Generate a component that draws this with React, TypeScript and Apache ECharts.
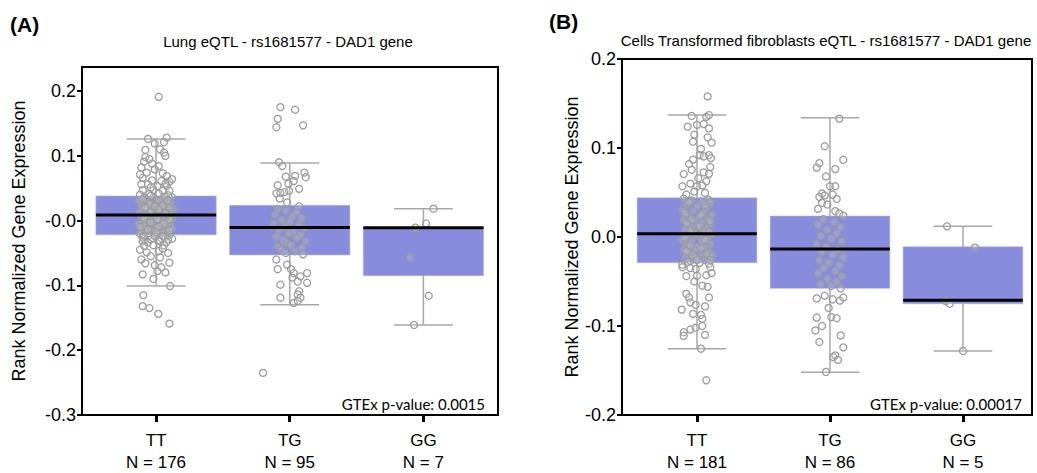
import React, { useEffect, useRef } from "react";
import * as echarts from "echarts";

// ---------- DATA ----------
const categories = ["TT", "TG", "GG"];
const lungCounts = [176, 95, 7];
const fibroCounts = [181, 86, 5];
const lungTitle = "Lung eQTL - rs1681577 - DAD1 gene";
const fibroTitle = "Cells Transformed fibroblasts eQTL - rs1681577 - DAD1 gene";
const lungP = "GTEx p-value: 0.0015";
const fibroP = "GTEx p-value: 0.00017";
const lungTicks = [-0.3, -0.2, -0.1, 0, 0.1, 0.2];
const fibroTicks = [-0.2, -0.1, 0, 0.1, 0.2];

// box stats: [category, lowerWhisker, q1, median, q3, upperWhisker]
const lungBoxes = [
  [0, -0.101, -0.022, 0.0085, 0.038, 0.126],
  [1, -0.130, -0.053, -0.0105, 0.0235, 0.089],
  [2, -0.161, -0.085, -0.011, -0.011, 0.0184],
];
const fibroBoxes = [
  [0, -0.1255, -0.029, 0.0037, 0.044, 0.137],
  [1, -0.152, -0.0577, -0.0134, 0.0235, 0.134],
  [2, -0.128, -0.075, -0.071, -0.011, 0.012],
];

// points: [jitter offset from category centre, value]
const lungTT = [
  [0.02, 0.191],
  [-0.06, 0.126], [-0.01, 0.119], [0.08, 0.128], [0.03, 0.110], [0.06, 0.105], [-0.08, 0.098], [-0.09, 0.091],
  [-0.03, 0.088], [-0.11, 0.082], [-0.01, 0.079], [-0.07, 0.074], [0.05, 0.073], [0.08, 0.069], [-0.10, 0.066],
  [-0.03, 0.062], [0.04, 0.061], [0.10, 0.060], [-0.11, 0.056], [-0.06, 0.056], [0.01, 0.053], [0.08, 0.053],
  [-0.10, 0.047], [-0.02, 0.047], [0.05, 0.046], [0.10, 0.046], [0.07, 0.100], [-0.08, 0.109],
  [0.06, 0.121], [-0.05, 0.095], [0.02, 0.084], [-0.12, 0.071], [0.12, 0.064], [-0.04, 0.051], [0.07, 0.057],
  [-0.12, 0.040], [-0.05, 0.041], [0.02, 0.042], [0.09, 0.039], [0.12, 0.036], [-0.09, 0.035], [-0.02, 0.036],
  [0.05, 0.034], [-0.13, 0.031], [0.00, 0.030], [0.07, 0.029], [-0.07, 0.028], [0.11, 0.027], [-0.03, 0.025],
  [0.03, 0.024], [-0.11, 0.023], [0.09, 0.022], [-0.06, 0.021], [0.01, 0.020], [0.06, 0.019], [-0.09, 0.018],
  [0.13, 0.017], [-0.02, 0.016], [0.04, 0.015], [-0.12, 0.014], [0.08, 0.013], [-0.05, 0.012], [0.00, 0.011],
  [0.11, 0.010], [-0.08, 0.009], [0.05, 0.008], [-0.01, 0.007], [-0.11, 0.006], [0.09, 0.005], [0.03, 0.004],
  [-0.06, 0.003], [0.12, 0.002], [-0.03, 0.001], [0.06, 0.000], [-0.10, -0.001], [0.01, -0.002], [0.09, -0.003],
  [-0.07, -0.004], [-0.13, -0.005], [0.04, -0.006], [-0.02, -0.007], [0.11, -0.008], [-0.09, -0.009],
  [0.07, -0.010], [0.00, -0.011], [-0.05, -0.012], [0.12, -0.013], [-0.11, -0.014], [0.03, -0.015],
  [-0.03, -0.016], [0.08, -0.017], [-0.08, -0.018], [0.05, -0.019], [-0.12, -0.020], [0.01, -0.021],
  [0.10, -0.022], [-0.06, -0.023], [-0.01, -0.024], [0.07, -0.025], [-0.10, -0.026], [0.04, -0.027],
  [0.12, -0.028], [-0.04, -0.029], [0.02, -0.030], [-0.08, -0.031],
  [-0.04, 0.038], [0.06, 0.037], [-0.10, 0.033], [0.02, 0.032], [0.09, 0.031], [-0.05, 0.026], [0.05, 0.023],
  [-0.01, 0.022], [-0.08, 0.020], [0.10, 0.019], [0.02, 0.017], [-0.04, 0.013], [0.07, 0.011], [-0.09, 0.004],
  [0.01, 0.002], [0.10, 0.001], [-0.04, -0.003], [0.06, -0.004], [-0.12, -0.010], [0.02, -0.009],
  [-0.06, -0.014], [0.10, -0.015], [0.00, -0.018], [-0.09, -0.024], [0.05, -0.024], [0.09, -0.029],
  [-0.10, -0.032], [-0.06, -0.034], [0.03, -0.032], [0.08, -0.033], [-0.09, -0.039], [-0.02, -0.038],
  [0.06, -0.038], [-0.07, -0.049], [0.02, -0.047], [0.09, -0.050], [-0.11, -0.060], [-0.08, -0.066],
  [0.03, -0.057], [0.10, -0.065], [-0.01, -0.069], [0.01, -0.078], [0.07, -0.080], [-0.10, -0.083],
  [-0.02, -0.090], [0.105, -0.101], [-0.04, -0.055], [0.05, -0.043], [-0.12, -0.045], [0.04, -0.072],
  [-0.095, -0.115], [-0.10, -0.132], [-0.05, -0.135], [0.017, -0.144], [0.10, -0.159],
];
const lungTG = [
  [-0.07, 0.175], [0.04, 0.171], [-0.09, 0.157], [-0.10, 0.144], [0.10, 0.147],
  [-0.08, 0.090], [-0.055, 0.084], [0.11, 0.074], [-0.03, 0.068], [0.04, 0.069], [0.12, 0.067], [0.03, 0.061],
  [-0.01, 0.057], [-0.09, 0.0545], [0.07, 0.049], [-0.005, 0.046], [-0.04, 0.044], [-0.10, 0.042],
  [-0.07, 0.0426], [-0.075, 0.034], [-0.02, 0.028], [0.07, 0.022],
  [-0.09, 0.018], [-0.03, 0.015], [0.05, 0.012], [-0.11, 0.009], [0.02, 0.006], [0.09, 0.004], [-0.06, 0.001],
  [0.00, -0.002], [-0.12, -0.005], [0.07, -0.007], [-0.04, -0.009], [0.11, -0.012], [-0.08, -0.014],
  [0.03, -0.017], [-0.01, -0.020], [0.08, -0.022], [-0.10, -0.025], [0.05, -0.027], [-0.05, -0.030],
  [0.12, -0.032], [-0.02, -0.035], [0.01, -0.038], [-0.09, -0.040], [0.09, -0.042], [-0.06, -0.045],
  [0.04, -0.047], [-0.03, -0.050], [0.10, -0.052],
  [-0.10, -0.060], [-0.02, -0.068], [-0.09, -0.075], [0.01, -0.075], [0.03, -0.081], [0.08, -0.086],
  [0.02, -0.088], [0.13, -0.081], [0.06, -0.094], [-0.07, -0.099], [0.13, -0.096], [0.07, -0.109],
  [-0.07, -0.119], [0.06, -0.114], [0.08, -0.119], [0.03, -0.127], [0.06, -0.124], [-0.20, -0.235],
];
const lungGG = [
  [0.075, 0.0184], [0.02, -0.0045], [-0.06, -0.011], [-0.10, -0.057], [0.04, -0.116], [-0.07, -0.161],
];
const fibroTT = [
  [0.08, 0.158], [-0.04, 0.136], [0.07, 0.135], [0.09, 0.137], [-0.07, 0.124], [0.00, 0.126], [0.05, 0.127],
  [0.09, 0.122], [-0.02, 0.115], [-0.03, 0.107], [0.11, 0.106], [0.02, 0.092], [0.05, 0.0905], [0.09, 0.092],
  [-0.03, 0.087], [0.105, 0.0886], [0.10, 0.0786], [-0.04, 0.0756], [-0.10, 0.0707], [0.05, 0.0726],
  [0.09, 0.071], [0.01, 0.066], [0.07, 0.0626], [-0.11, 0.057], [-0.05, 0.060], [0.00, 0.057], [0.04, 0.058],
  [-0.02, 0.051], [0.06, 0.0495], [-0.08, 0.0477], [0.085, 0.042],
  [-0.10, 0.043], [-0.04, 0.041], [0.03, 0.040], [0.10, 0.038], [-0.08, 0.036], [0.00, 0.034], [0.07, 0.032],
  [-0.11, 0.030], [-0.03, 0.029], [0.05, 0.027], [0.11, 0.025], [-0.07, 0.024], [0.01, 0.022], [0.08, 0.020],
  [-0.10, 0.019], [-0.02, 0.017], [0.04, 0.016], [0.10, 0.014], [-0.06, 0.013], [0.00, 0.011], [0.07, 0.009],
  [-0.09, 0.008], [-0.03, 0.006], [0.05, 0.005], [0.11, 0.003], [-0.07, 0.002], [0.02, 0.000], [0.08, -0.002],
  [-0.11, -0.003], [-0.04, -0.005], [0.04, -0.006], [0.10, -0.008], [-0.08, -0.009], [0.00, -0.011],
  [0.06, -0.012], [-0.10, -0.014], [-0.02, -0.015], [0.09, -0.017], [-0.06, -0.018], [0.03, -0.020],
  [0.11, -0.021], [-0.09, -0.023], [-0.01, -0.024], [0.06, -0.026], [-0.05, -0.027], [0.02, -0.029],
  [0.09, -0.030], [-0.11, -0.031],
  [-0.06, 0.039], [0.06, 0.036], [-0.09, 0.027], [0.03, 0.025], [-0.04, 0.020], [0.10, 0.018], [-0.08, 0.015],
  [0.02, 0.012], [-0.05, 0.007], [0.09, 0.006], [-0.01, 0.003], [-0.09, -0.001], [0.06, -0.003],
  [-0.05, -0.010], [0.03, -0.013], [-0.08, -0.016], [0.07, -0.019], [-0.03, -0.021], [0.00, -0.026],
  [-0.07, -0.028], [0.10, -0.026], [-0.06, 0.082], [0.03, 0.099], [0.08, 0.112],
  [-0.11, -0.034], [-0.05, -0.035], [-0.01, -0.036], [0.10, -0.034], [-0.08, -0.044], [0.00, -0.0436],
  [0.07, -0.043], [0.11, -0.0406], [0.04, -0.0547], [0.08, -0.056], [0.09, -0.068], [-0.08, -0.064],
  [-0.06, -0.068], [-0.05, -0.0734], [-0.01, -0.0763], [-0.115, -0.0816], [-0.03, -0.0864], [0.03, -0.0875],
  [0.04, -0.092], [-0.10, -0.107], [-0.10, -0.111], [-0.05, -0.104], [-0.01, -0.102], [0.04, -0.100],
  [0.06, -0.110], [0.03, -0.1255], [0.07, -0.161], [-0.02, -0.050], [0.06, -0.078],
];
const fibroTG = [
  [0.07, 0.133], [-0.04, 0.102], [-0.08, 0.083], [0.10, 0.0868], [-0.10, 0.078], [0.04, 0.0763], [-0.03, 0.068],
  [0.00, 0.057], [0.04, 0.057], [-0.06, 0.0488], [0.02, 0.0477], [-0.08, 0.045], [-0.04, 0.0466], [0.05, 0.0428],
  [-0.06, 0.0383], [-0.02, 0.0365], [-0.09, 0.0316], [0.04, 0.029], [0.07, 0.0265], [0.10, 0.024],
  [-0.05, 0.020], [0.03, 0.017], [-0.09, 0.014], [0.08, 0.011], [-0.02, 0.008], [0.05, 0.004], [-0.07, 0.001],
  [0.01, -0.002], [0.09, -0.005], [-0.10, -0.008], [-0.03, -0.011], [0.06, -0.014], [-0.06, -0.017],
  [0.02, -0.020], [0.10, -0.023], [-0.08, -0.026], [-0.01, -0.029], [0.07, -0.032], [-0.05, -0.035],
  [0.04, -0.038], [-0.09, -0.041], [0.09, -0.044], [-0.02, -0.047], [0.05, -0.050], [-0.07, -0.053],
  [0.01, -0.055],
  [0.08, -0.0577], [-0.04, -0.066], [-0.10, -0.069], [0.02, -0.070], [0.075, -0.0715], [0.10, -0.068],
  [-0.01, -0.0797], [-0.10, -0.0905], [0.01, -0.090], [0.05, -0.0913], [-0.06, -0.100], [-0.11, -0.105],
  [0.08, -0.1106], [-0.08, -0.118], [0.10, -0.124], [0.025, -0.135], [0.04, -0.133], [0.06, -0.138],
  [-0.03, -0.1516],
];
const fibroGG = [
  [-0.12, 0.012], [0.09, -0.012], [-0.13, -0.072], [-0.10, -0.075], [0.0, -0.128],
];

// ---------- STYLE ----------
const FONT = "'Liberation Sans', Arial, sans-serif";
const BOX_FILL = "#878cdc";
const WHISKER = "#a8a8a8";
const POINT = "#9c9c9c";

function boxSeries(data: number[][], axisIndex: number, medianOnly: boolean) {
  return {
    type: "custom",
    xAxisIndex: axisIndex,
    yAxisIndex: axisIndex,
    z: medianOnly ? 5 : 2,
    silent: true,
    data,
    renderItem: (params: any, api: any) => {
      const x = api.value(0);
      const lo = api.value(1), q1 = api.value(2), md = api.value(3), q3 = api.value(4), hi = api.value(5);
      const c = api.coord([x, md]);
      const halfBox = api.coord([x + 0.45, md])[0] - c[0];
      const halfCap = api.coord([x + 0.22, md])[0] - c[0];
      const yLo = api.coord([x, lo])[1], yHi = api.coord([x, hi])[1];
      const yQ1 = api.coord([x, q1])[1], yQ3 = api.coord([x, q3])[1];
      if (medianOnly) {
        return {
          type: "line",
          shape: { x1: c[0] - halfBox, y1: c[1], x2: c[0] + halfBox, y2: c[1] },
          style: { stroke: "#000", lineWidth: 3 },
        };
      }
      return {
        type: "group",
        children: [
          { type: "line", shape: { x1: c[0], y1: yLo, x2: c[0], y2: yHi }, style: { stroke: WHISKER, lineWidth: 1.5 } },
          { type: "line", shape: { x1: c[0] - halfCap, y1: yLo, x2: c[0] + halfCap, y2: yLo }, style: { stroke: WHISKER, lineWidth: 1.5 } },
          { type: "line", shape: { x1: c[0] - halfCap, y1: yHi, x2: c[0] + halfCap, y2: yHi }, style: { stroke: WHISKER, lineWidth: 1.5 } },
          {
            type: "rect",
            shape: { x: c[0] - halfBox, y: yQ3, width: halfBox * 2, height: yQ1 - yQ3 },
            style: { fill: BOX_FILL, stroke: "#b4b6d8", lineWidth: 0.6 },
          },
        ],
      };
    },
  };
}

function pointSeries(groups: number[][][], axisIndex: number) {
  const data: number[][] = [];
  groups.forEach((g, ci) => g.forEach(([dx, v]) => data.push([ci + dx, v])));
  return {
    type: "scatter",
    xAxisIndex: axisIndex,
    yAxisIndex: axisIndex,
    z: 3,
    silent: true,
    symbol: "circle",
    symbolSize: 7,
    itemStyle: { color: "rgba(255,255,255,0.15)", borderColor: POINT, borderWidth: 1.3, opacity: 1 },
    data,
  };
}

function xAxisCfg(gridIndex: number, min: number, max: number, counts: number[]) {
  return {
    type: "value",
    gridIndex,
    min,
    max,
    axisLine: { show: true, onZero: false, lineStyle: { color: "#000", width: 2 } },
    axisTick: { show: true, customValues: [0, 1, 2], length: 7, lineStyle: { color: "#000", width: 3 } },
    axisLabel: {
      customValues: [0, 1, 2],
      formatter: (v: number) => {
        const i = Math.round(v);
        return categories[i] + "\nN = " + counts[i];
      },
      color: "#000",
      fontFamily: FONT,
      fontSize: 17,
      lineHeight: 22,
      margin: 14,
    },
    splitLine: { show: false },
  };
}

function yAxisCfg(gridIndex: number, min: number, max: number, ticks: number[], zeroLabel: string, gap: number) {
  return {
    type: "value",
    gridIndex,
    min,
    max,
    name: "Rank Normalized Gene Expression",
    nameLocation: "middle",
    nameGap: gap,
    nameRotate: 90,
    nameTextStyle: { color: "#000", fontFamily: FONT, fontSize: 18 },
    axisLine: { show: true, onZero: false, lineStyle: { color: "#000", width: 2 } },
    axisTick: { show: true, customValues: ticks, length: 5, lineStyle: { color: "#000", width: 2 } },
    axisLabel: {
      customValues: ticks,
      formatter: (v: number) => (Math.abs(v) < 1e-9 ? zeroLabel : v.toFixed(1)),
      color: "#000",
      fontFamily: FONT,
      fontSize: 18,
      margin: 6,
    },
    splitLine: { show: false },
  };
}

export default function App() {
  const ref = useRef<HTMLDivElement>(null);
  useEffect(() => {
    if (!ref.current) return;
    const chart = echarts.init(ref.current, undefined, { renderer: "svg" });
    chart.setOption({
      animation: false,
      backgroundColor: "#fff",
      grid: [
        { left: 82, top: 67, width: 416, height: 348, show: true, borderColor: "#000", borderWidth: 2, backgroundColor: "transparent" },
        { left: 622, top: 59, width: 410, height: 356, show: true, borderColor: "#000", borderWidth: 2, backgroundColor: "transparent" },
      ],
      xAxis: [xAxisCfg(0, -0.554, 2.558, lungCounts), xAxisCfg(1, -0.564, 2.519, fibroCounts)],
      yAxis: [
        yAxisCfg(0, -0.3, 0.237, lungTicks, "-0.0", 54),
        yAxisCfg(1, -0.2, 0.2, fibroTicks, "0.0", 39),
      ],
      graphic: [
        { type: "text", style: { x: 10, y: 24, text: "(A)", fill: "#000", font: `bold 21px ${FONT}`, textVerticalAlign: "middle" } },
        { type: "text", style: { x: 549, y: 21, text: "(B)", fill: "#000", font: `bold 21px ${FONT}`, textVerticalAlign: "middle" } },
        { type: "text", style: { x: 288, y: 41, text: lungTitle, fill: "#000", font: `15px ${FONT}`, textAlign: "center", textVerticalAlign: "middle" } },
        { type: "text", style: { x: 826, y: 40, text: fibroTitle, fill: "#000", font: `15px ${FONT}`, textAlign: "center", textVerticalAlign: "middle" } },
        { type: "text", z: 10, style: { x: 485, y: 404, text: lungP, fill: "#000", font: `15px Lato, ${FONT}`, textAlign: "right", textVerticalAlign: "middle" } },
        { type: "text", z: 10, style: { x: 1022, y: 404, text: fibroP, fill: "#000", font: `15px Lato, ${FONT}`, textAlign: "right", textVerticalAlign: "middle" } },
      ],
      series: [
        boxSeries(lungBoxes, 0, false),
        pointSeries([lungTT, lungTG, lungGG], 0),
        boxSeries(lungBoxes, 0, true),
        boxSeries(fibroBoxes, 1, false),
        pointSeries([fibroTT, fibroTG, fibroGG], 1),
        boxSeries(fibroBoxes, 1, true),
      ],
    });
    return () => chart.dispose();
  }, []);
  return <div ref={ref} style={{ position: "absolute", left: 0, top: 0, width: 1037, height: 473 }} />;
}
